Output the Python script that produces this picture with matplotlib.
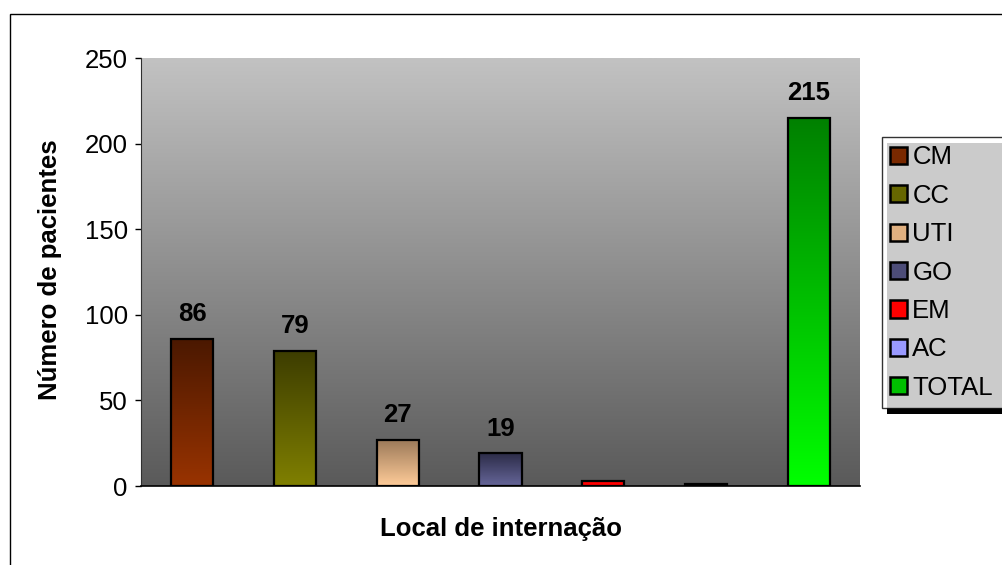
import matplotlib
matplotlib.use('Agg')
from matplotlib import pyplot as plt
from matplotlib.patches import Rectangle
from matplotlib.colors import LinearSegmentedColormap
import numpy as np

plt.rcParams['font.family'] = ['Liberation Sans', 'DejaVu Sans']

# dados
locais = ['CM', 'CC', 'UTI', 'GO', 'EM', 'AC', 'TOTAL']
pacientes = [86, 79, 27, 19, 3, 1, 215]
rotulados = [True, True, True, True, False, False, True]

# cor do topo e da base de cada barra (degradê vertical)
cor_topo = ['#4a1800', '#3c3c00', '#9a7858', '#2c2c48', '#ff0000', '#9999ff', '#008000']
cor_base = ['#993300', '#808000', '#ffcc99', '#666699', '#ff0000', '#9999ff', '#00ff00']
cor_legenda = ['#7a2900', '#666600', '#e0b080', '#4c4c78', '#ff0000', '#9999ff', '#00c000']

W, H = 1002, 565
fs = 18.5
fig = plt.figure(figsize=(W / 100, H / 100), dpi=100)
fig.patch.set_facecolor('white')

ax = fig.add_axes([141 / W, 1 - 486 / H, 719 / W, 428 / H])
ax.set_facecolor('none')

x = np.arange(len(locais))
largura = 0.41
xlim = (-0.5, len(locais) - 0.5)
ylim = (0, 250)

# fundo cinza em degradê
fundo = LinearSegmentedColormap.from_list('fundo', ['#5a5a5a', '#c2c2c2'])
grad = np.linspace(0, 1, 256).reshape(-1, 1)
ax.imshow(grad, cmap=fundo, origin='lower', aspect='auto',
          extent=[xlim[0], xlim[1], ylim[0], ylim[1]], zorder=0)

barras = ax.bar(x, pacientes, width=largura, color='none',
                edgecolor='black', linewidth=1.6, zorder=3)

for b, ct, cb in zip(barras, cor_topo, cor_base):
    cmap = LinearSegmentedColormap.from_list('b', [cb, ct])
    x0, y0 = b.get_x(), b.get_y()
    img = ax.imshow(grad, cmap=cmap, origin='lower', aspect='auto',
                    extent=[x0, x0 + b.get_width(), y0, y0 + b.get_height()],
                    zorder=2, interpolation='bilinear')
    img.set_clip_path(b)

for b, v, r in zip(barras, pacientes, rotulados):
    if r:
        ax.annotate(str(v), (b.get_x() + b.get_width() / 2, v),
                    xytext=(0, 9), textcoords='offset points',
                    ha='center', va='bottom', fontsize=fs, fontweight='bold')

ax.set_xlim(*xlim)
ax.set_ylim(*ylim)
ax.set_yticks(np.arange(0, 251, 50))
ax.set_xticks([])
ax.tick_params(axis='y', direction='out', length=4.5, width=1, pad=5,
               labelsize=fs)
for lado in ['top', 'right']:
    ax.spines[lado].set_visible(False)
ax.spines['left'].set_color('#303030')
ax.spines['bottom'].set_linewidth(1.2)

ax.set_ylabel('Número de pacientes', fontsize=fs, fontweight='bold')
ax.yaxis.set_label_coords(-0.11, 0.505)
ax.set_xlabel('Local de internação', fontsize=fs, fontweight='bold', va='top')
ax.xaxis.set_label_coords(0.5, -0.072)

# legenda com sombra preta (a caixa passa da borda direita)
handles = [Rectangle((0, 0), 1, 1, facecolor=c, edgecolor='black', linewidth=1.8)
           for c in cor_legenda]
leg_x0, leg_top = 882 / W, 1 - 137 / H
leg = fig.legend(handles, locais, loc='upper left', mode='expand',
                 bbox_to_anchor=(leg_x0, leg_top - 0.5, 1.02 - leg_x0, 0.5),
                 fontsize=fs, frameon=True, fancybox=False, borderpad=0.33,
                 labelspacing=0.56, handlelength=0.65, handleheight=0.65,
                 handletextpad=0.2, borderaxespad=0)
leg.get_frame().set_edgecolor('black')
leg.get_frame().set_linewidth(1)
leg.get_frame().set_facecolor('white')
leg.set_zorder(5)

fig.canvas.draw()
bb = leg.get_window_extent().transformed(fig.transFigure.inverted())
sombra = Rectangle((bb.x0 + 5 / W, bb.y0 - 6 / H), bb.width + 0.05, bb.height,
                   transform=fig.transFigure, facecolor='black', edgecolor='none',
                   zorder=4)
fig.add_artist(sombra)

# moldura externa do gráfico
fig.add_artist(Rectangle((10 / W, -0.1), 1.2, 1 - 14 / H + 0.1,
                         transform=fig.transFigure, fill=False,
                         edgecolor='black', linewidth=1, zorder=1))

fig.savefig('out.png', dpi=100)
